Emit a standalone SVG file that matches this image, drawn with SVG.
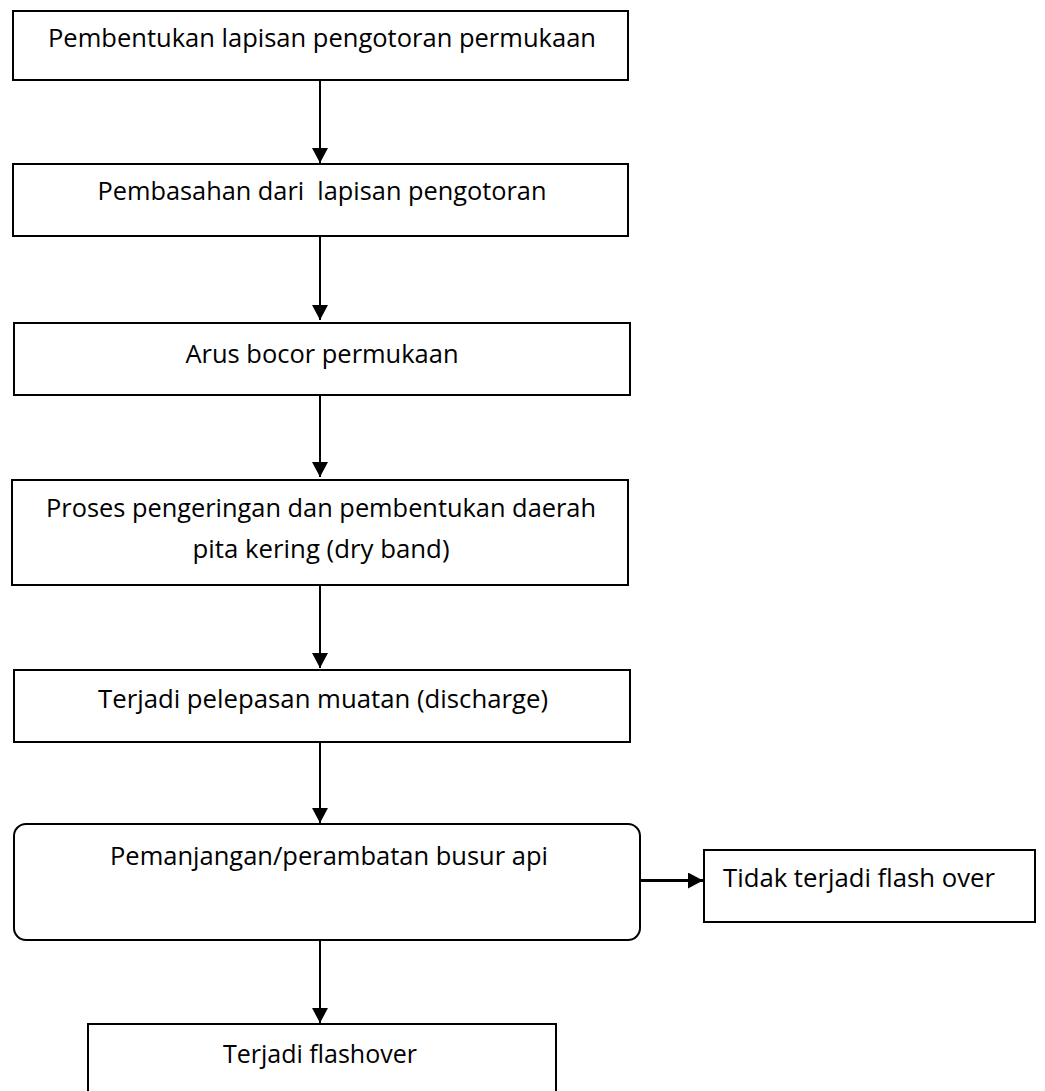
<svg xmlns="http://www.w3.org/2000/svg" width="1045" height="1091" viewBox="0 0 1045 1091">
<style>
.box{fill:#fff;stroke:#000;stroke-width:2}
.t{font-family:"Open Sans","Liberation Sans",sans-serif;font-size:25px;fill:#000;text-anchor:middle}
.c{stroke:#000;stroke-width:2;fill:none;marker-end:url(#ah)}
</style>
<defs>
<marker id="ah" viewBox="0 0 15 16" refX="15" refY="8" markerWidth="15" markerHeight="16" markerUnits="userSpaceOnUse" orient="auto">
<path d="M0,0 L15,8 L0,16 Z" fill="#000"/>
</marker>
</defs>
<g id="connectors">
<line class="c" x1="320" y1="80" x2="320" y2="163"/>
<line class="c" x1="320" y1="236" x2="320" y2="320"/>
<line class="c" x1="320" y1="393" x2="320" y2="477"/>
<line class="c" x1="320" y1="585" x2="320" y2="668"/>
<line class="c" x1="320" y1="742" x2="320" y2="823"/>
<line class="c" x1="641" y1="880.5" x2="703" y2="880.5" style="stroke-width:3"/>
<line class="c" x1="320" y1="940" x2="320" y2="1023"/>
</g>
<g id="n1">
<rect class="box" x="13" y="11" width="615" height="69"/>
<text class="t" x="322" y="47" textLength="548" lengthAdjust="spacingAndGlyphs">Pembentukan lapisan pengotoran permukaan</text>
</g>
<g id="n2">
<rect class="box" x="13" y="164" width="615" height="72"/>
<text class="t" x="322" y="200" textLength="449" lengthAdjust="spacingAndGlyphs" xml:space="preserve">Pembasahan dari  lapisan pengotoran</text>
</g>
<g id="n3">
<rect class="box" x="14" y="323" width="616" height="72"/>
<text class="t" x="322" y="363" textLength="273" lengthAdjust="spacingAndGlyphs">Arus bocor permukaan</text>
</g>
<g id="n4">
<rect class="box" x="12" y="480" width="616" height="105"/>
<text class="t" x="321" y="517" textLength="550" lengthAdjust="spacingAndGlyphs">Proses pengeringan dan pembentukan daerah</text>
<text class="t" x="321" y="558" textLength="257" lengthAdjust="spacingAndGlyphs">pita kering (dry band)</text>
</g>
<g id="n5">
<rect class="box" x="14" y="670" width="616" height="72"/>
<text class="t" x="323" y="708" textLength="450" lengthAdjust="spacingAndGlyphs">Terjadi pelepasan muatan (discharge)</text>
</g>
<g id="n6">
<rect class="box" x="14" y="824" width="626" height="116" rx="12" ry="12"/>
<text class="t" x="329" y="865" textLength="438" lengthAdjust="spacingAndGlyphs">Pemanjangan/perambatan busur api</text>
</g>
<g id="n7">
<rect class="box" x="704" y="850" width="331" height="72"/>
<text class="t" x="859" y="887" textLength="272" lengthAdjust="spacingAndGlyphs">Tidak terjadi flash over</text>
</g>
<g id="n8">
<rect class="box" x="88" y="1024" width="468" height="80"/>
<text class="t" x="320" y="1063" textLength="194" lengthAdjust="spacingAndGlyphs">Terjadi flashover</text>
</g>
</svg>
